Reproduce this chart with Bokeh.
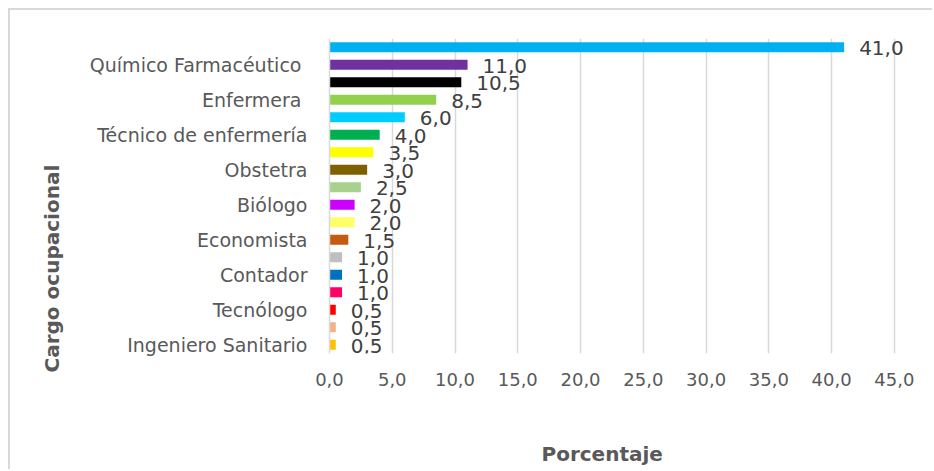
from bokeh.plotting import figure
from bokeh.models import ColumnDataSource, FixedTicker, LabelSet, Range1d, Title
from bokeh.core.properties import value
from bokeh.embed import file_html
from bokeh.resources import INLINE

# Categories from bottom (first) to top (last); Excel shows every other label
categories = ["Ingeniero Sanitario", "", "Tecnólogo", "", "Contador", "",
              "Economista", "", "Biólogo", "", "Obstetra", "",
              "Técnico de enfermería", "", "Enfermera ", "",
              "Químico Farmacéutico ", ""]
values = [0.5, 0.5, 0.5, 1.0, 1.0, 1.0, 1.5, 2.0, 2.0, 2.5, 3.0, 3.5,
          4.0, 6.0, 8.5, 10.5, 11.0, 41.0]
colors = ["#FFC000", "#F4B183", "#FF0000", "#FF0066", "#0070C0", "#BFBFBF",
          "#C55A11", "#FFFF66", "#CC00FF", "#A9D18E", "#7F6000", "#FFFF00",
          "#00B050", "#00CCFF", "#92D050", "#000000", "#7030A0", "#00B0F0"]
x_ticks = [0, 5, 10, 15, 20, 25, 30, 35, 40, 45]
x_title = "Porcentaje"
y_title = "Cargo ocupacional"

positions = list(range(1, len(values) + 1))
labels = [f"{v:.1f}".replace(".", ",") for v in values]

src = ColumnDataSource(dict(y=positions, v=values, c=colors, lab=labels))

FONT = "DejaVu Sans"
GRAY = "#595959"

# frame extends past the last tick so the value labels are not clipped
p = figure(width=924, height=461, output_backend="svg", toolbar_location=None,
           x_range=Range1d(0, 48.2), y_range=Range1d(0.5, len(values) + 0.5),
           min_border_left=319, min_border_right=0, min_border_top=28,
           min_border_bottom=118, outline_line_color=None)
p.styles = {"margin-left": "8px", "margin-top": "8px",
            "border-left": "2px solid #d9d9d9", "border-top": "2px solid #d9d9d9"}

p.hbar(y="y", left=0, right="v", height=0.57, fill_color="c", line_color=None, source=src)

lbl = LabelSet(x="v", y="y", text="lab", source=src, x_offset=15, y_offset=-1,
               text_baseline="middle", text_font=value(FONT), text_font_size="20px",
               text_color="#404040")
p.add_layout(lbl)

# x axis
p.xaxis.ticker = FixedTicker(ticks=x_ticks)
p.xaxis.major_label_overrides = {t: f"{t:.1f}".replace(".", ",") for t in x_ticks}
p.xaxis.axis_line_color = None
p.xaxis.major_tick_line_color = None
p.xaxis.major_tick_out = 0
p.xaxis.minor_tick_line_color = None
p.xaxis.major_label_text_font = FONT
p.xaxis.major_label_text_font_size = "18px"
p.xaxis.major_label_text_color = GRAY
p.xaxis.major_label_standoff = 19

# y axis
shown = [pos for pos, c in zip(positions, categories) if c]
p.yaxis.ticker = FixedTicker(ticks=shown)
p.yaxis.major_label_overrides = {pos: c for pos, c in zip(positions, categories) if c}
p.yaxis.axis_line_color = "#d9d9d9"
p.yaxis.axis_line_width = 1.5
p.yaxis.major_tick_line_color = None
p.yaxis.major_tick_out = 0
p.yaxis.minor_tick_line_color = None
p.yaxis.major_label_text_font = FONT
p.yaxis.major_label_text_font_size = "19px"
p.yaxis.major_label_text_color = GRAY
p.yaxis.major_label_standoff = 22

# axis titles, positioned like the original (a blank spacer title pushes the x title down)
p.add_layout(Title(text=" ", standoff=20, text_font=FONT, text_font_size="20px"), "below")
p.add_layout(Title(text=x_title, align="left", offset=212, standoff=10,
                   text_font=FONT, text_font_style="bold", text_font_size="20px",
                   text_color=GRAY), "below")
p.add_layout(Title(text=y_title, align="left", offset=-19, standoff=46,
                   text_font=FONT, text_font_style="bold", text_font_size="20px",
                   text_color=GRAY), "left")

p.xgrid.grid_line_color = "#d9d9d9"
p.xgrid.grid_line_width = 1.5
p.ygrid.grid_line_color = None

open("out.html", "w").write(file_html(p, INLINE))
